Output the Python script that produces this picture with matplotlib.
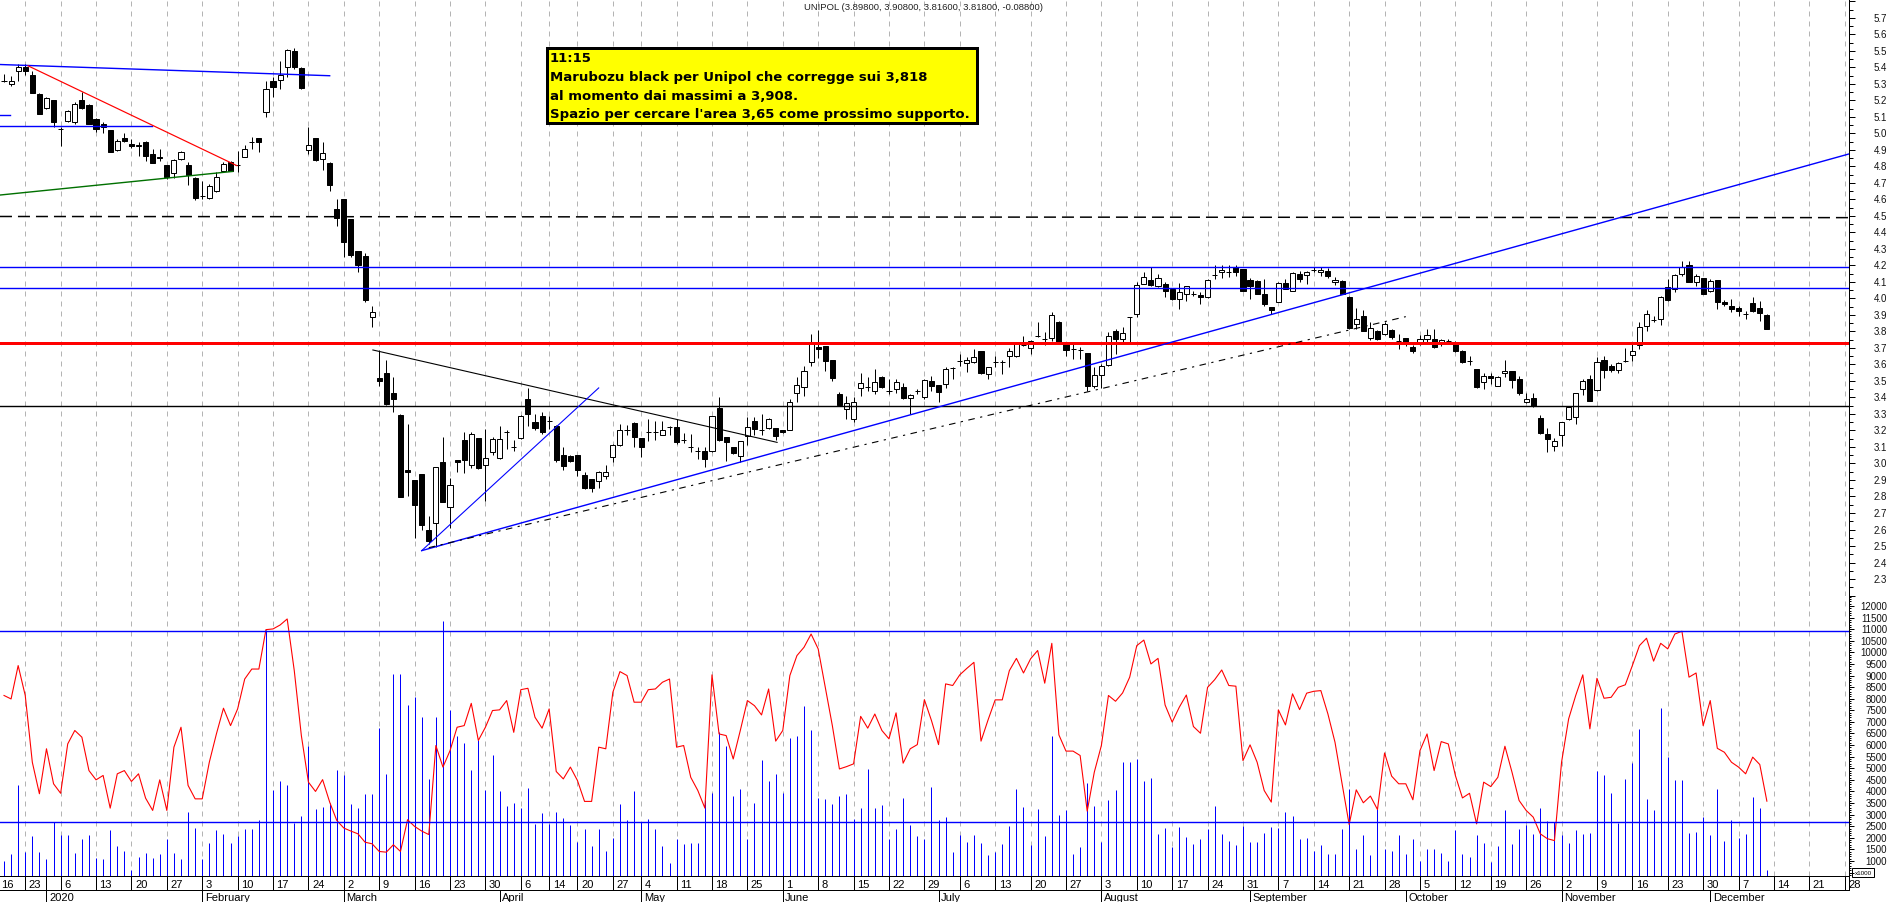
import numpy as np
import pandas as pd
import matplotlib
matplotlib.use("Agg")
import matplotlib.pyplot as plt
from matplotlib import transforms, font_manager
from matplotlib.patches import Rectangle
from matplotlib.lines import Line2D

# ---- data ----
opens = [5.32, 5.30, 5.38, 5.40, 5.355, 5.24, 5.155, 5.20, 5.03, 5.075,
         5.07, 5.20, 5.175, 5.09, 5.06, 5.02, 4.90, 4.97, 4.935, 4.925,
         4.95, 4.875, 4.86, 4.81, 4.76, 4.845, 4.81, 4.73, 4.62, 4.61,
         4.65, 4.775, 4.83, 4.81, 4.86, 4.95, 4.97, 5.13, 5.32, 5.325,
         5.405, 5.50, 5.395, 4.90, 4.97, 4.845, 4.82, 4.54, 4.60, 4.48,
         4.29, 4.26, 3.89, 3.516, 3.547, 3.43, 3.294, 2.96, 2.90, 2.936,
         2.60, 2.64, 3.01, 2.735, 3.02, 3.14, 2.99, 3.155, 2.99, 3.067,
         3.033, 3.19, 3.10, 3.153, 3.39, 3.25, 3.286, 3.256, 3.23, 3.053,
         3.047, 3.05, 2.932, 2.906, 2.896, 2.926, 3.037, 3.11, 3.20, 3.245,
         3.153, 3.189, 3.189, 3.174, 3.22, 3.223, 3.142, 3.10, 3.074, 3.077,
         3.074, 3.335, 3.159, 3.098, 3.044, 3.164, 3.26, 3.205, 3.215, 3.213,
         3.20, 3.205, 3.427, 3.465, 3.613, 3.708, 3.71, 3.627, 3.42, 3.33,
         3.27, 3.46, 3.465, 3.44, 3.526, 3.44, 3.452, 3.462, 3.395, 3.44,
         3.40, 3.498, 3.476, 3.482, 3.579, 3.62, 3.607, 3.613, 3.68, 3.542,
         3.617, 3.613, 3.65, 3.65, 3.72, 3.698, 3.775, 3.755, 3.76, 3.855,
         3.724, 3.694, 3.69, 3.668, 3.472, 3.538, 3.597, 3.80, 3.755, 3.886,
         3.906, 4.088, 4.112, 4.074, 4.088, 4.058, 3.997, 4.027, 4.027, 4.023,
         4.007, 4.144, 4.159, 4.159, 4.19, 4.179, 4.112, 4.108, 4.03, 3.947,
         3.98, 4.092, 4.047, 4.148, 4.142, 4.173, 4.163, 4.165, 4.098, 4.108,
         4.007, 3.846, 3.894, 3.759, 3.805, 3.785, 3.811, 3.744, 3.759, 3.704,
         3.738, 3.755, 3.755, 3.735, 3.744, 3.735, 3.684, 3.62, 3.573, 3.492,
         3.528, 3.472, 3.547, 3.56, 3.512, 3.37, 3.396, 3.275, 3.179, 3.108,
         3.17, 3.27, 3.28, 3.452, 3.512, 3.447, 3.63, 3.589, 3.569, 3.62,
         3.658, 3.72, 3.832, 3.867, 3.873, 4.068, 4.057, 4.148, 4.205, 4.098,
         4.122, 4.047, 4.112, 3.977, 3.953, 3.94, 3.906, 3.973, 3.94, 3.898]
highs = [5.36, 5.35, 5.42, 5.42, 5.38, 5.245, 5.22, 5.205, 5.04, 5.14,
         5.19, 5.25, 5.18, 5.095, 5.07, 5.02, 4.965, 5.0, 4.965, 4.947,
         4.953, 4.905, 4.905, 4.81, 4.845, 4.895, 4.83, 4.735, 4.715, 4.694,
         4.765, 4.825, 4.836, 4.896, 4.932, 4.977, 4.972, 5.32, 5.34, 5.44,
         5.512, 5.516, 5.40, 5.04, 4.972, 4.95, 4.83, 4.60, 4.60, 4.482,
         4.29, 4.274, 3.955, 3.685, 3.627, 3.526, 3.30, 3.24, 2.90, 2.936,
         2.68, 2.98, 3.16, 2.91, 3.02, 3.19, 3.19, 3.157, 3.21, 3.16,
         3.23, 3.20, 3.145, 3.294, 3.457, 3.30, 3.31, 3.29, 3.232, 3.098,
         3.05, 3.052, 2.95, 2.908, 2.956, 2.99, 3.12, 3.24, 3.235, 3.25,
         3.155, 3.27, 3.26, 3.26, 3.23, 3.27, 3.185, 3.18, 3.098, 3.10,
         3.29, 3.40, 3.16, 3.10, 3.136, 3.28, 3.28, 3.30, 3.274, 3.215,
         3.20, 3.39, 3.523, 3.59, 3.785, 3.81, 3.712, 3.63, 3.435, 3.41,
         3.40, 3.547, 3.526, 3.573, 3.53, 3.512, 3.512, 3.49, 3.42, 3.45,
         3.512, 3.528, 3.478, 3.583, 3.583, 3.664, 3.644, 3.694, 3.683, 3.585,
         3.653, 3.627, 3.70, 3.738, 3.775, 3.75, 3.86, 3.795, 3.916, 3.866,
         3.726, 3.724, 3.704, 3.67, 3.583, 3.60, 3.795, 3.815, 3.83, 3.89,
         4.10, 4.163, 4.19, 4.148, 4.10, 4.06, 4.092, 4.076, 4.047, 4.037,
         4.118, 4.20, 4.20, 4.20, 4.20, 4.18, 4.122, 4.11, 4.118, 3.95,
         4.10, 4.118, 4.159, 4.169, 4.169, 4.19, 4.19, 4.183, 4.128, 4.11,
         4.017, 3.94, 3.93, 3.855, 3.81, 3.855, 3.815, 3.785, 3.76, 3.72,
         3.78, 3.815, 3.815, 3.755, 3.755, 3.745, 3.686, 3.653, 3.575, 3.547,
         3.55, 3.532, 3.63, 3.562, 3.528, 3.43, 3.43, 3.294, 3.213, 3.153,
         3.252, 3.35, 3.43, 3.512, 3.536, 3.644, 3.653, 3.60, 3.613, 3.70,
         3.724, 3.855, 3.93, 3.896, 4.017, 4.118, 4.148, 4.23, 4.23, 4.148,
         4.125, 4.118, 4.115, 3.99, 3.997, 3.956, 3.926, 4.007, 3.987, 3.908]
lows = [5.31, 5.285, 5.32, 5.355, 5.245, 5.12, 5.15, 5.04, 4.925, 5.07,
        5.06, 5.15, 5.055, 5.01, 5.0, 4.885, 4.895, 4.95, 4.915, 4.866,
        4.835, 4.82, 4.835, 4.725, 4.73, 4.84, 4.685, 4.597, 4.60, 4.603,
        4.644, 4.765, 4.772, 4.765, 4.856, 4.906, 4.886, 5.10, 5.22, 5.27,
        5.34, 5.39, 5.27, 4.875, 4.835, 4.78, 4.65, 4.44, 4.25, 4.254,
        4.163, 3.98, 3.83, 3.47, 3.355, 3.31, 2.80, 2.805, 2.55, 2.597,
        2.51, 2.495, 2.765, 2.61, 2.95, 2.94, 2.97, 2.965, 2.775, 3.05,
        3.03, 3.09, 3.073, 3.15, 3.23, 3.20, 3.18, 3.21, 3.01, 2.96,
        3.012, 2.926, 2.845, 2.825, 2.85, 2.906, 3.01, 3.108, 3.17, 3.098,
        3.037, 3.135, 3.145, 3.17, 3.17, 3.118, 3.122, 3.07, 3.027, 2.977,
        3.07, 3.138, 3.017, 3.055, 3.01, 3.11, 3.17, 3.173, 3.21, 3.145,
        3.185, 3.20, 3.37, 3.41, 3.593, 3.64, 3.56, 3.50, 3.354, 3.27,
        3.25, 3.41, 3.44, 3.42, 3.46, 3.42, 3.43, 3.39, 3.30, 3.42,
        3.39, 3.44, 3.37, 3.46, 3.51, 3.593, 3.556, 3.61, 3.54, 3.512,
        3.583, 3.542, 3.583, 3.644, 3.715, 3.664, 3.765, 3.72, 3.744, 3.724,
        3.653, 3.633, 3.633, 3.44, 3.46, 3.46, 3.593, 3.664, 3.724, 3.724,
        3.886, 4.085, 4.078, 4.072, 4.007, 3.99, 3.936, 3.987, 4.017, 3.967,
        4.005, 4.118, 4.125, 4.128, 4.137, 4.045, 3.997, 4.025, 3.957, 3.906,
        3.977, 4.055, 4.045, 4.102, 4.088, 4.159, 4.137, 4.122, 4.082, 4.025,
        3.815, 3.815, 3.80, 3.75, 3.75, 3.78, 3.755, 3.694, 3.714, 3.67,
        3.72, 3.724, 3.70, 3.71, 3.735, 3.678, 3.61, 3.597, 3.456, 3.452,
        3.48, 3.468, 3.523, 3.456, 3.415, 3.365, 3.344, 3.18, 3.068, 3.073,
        3.108, 3.265, 3.24, 3.417, 3.378, 3.437, 3.516, 3.553, 3.55, 3.613,
        3.623, 3.694, 3.80, 3.86, 3.84, 3.987, 4.037, 4.138, 4.098, 4.078,
        4.025, 4.04, 3.936, 3.957, 3.916, 3.896, 3.876, 3.916, 3.865, 3.816]
closes = [5.32, 5.32, 5.40, 5.38, 5.245, 5.12, 5.215, 5.07, 5.03, 5.135,
          5.18, 5.155, 5.06, 5.03, 5.04, 4.89, 4.955, 4.955, 4.925, 4.93,
          4.865, 4.82, 4.85, 4.735, 4.84, 4.89, 4.75, 4.61, 4.62, 4.68,
          4.735, 4.815, 4.775, 4.81, 4.905, 4.95, 4.95, 5.27, 5.28, 5.355,
          5.505, 5.40, 5.275, 4.93, 4.84, 4.88, 4.69, 4.49, 4.345, 4.265,
          4.20, 3.99, 3.92, 3.498, 3.36, 3.39, 2.80, 2.947, 2.75, 2.63,
          2.53, 2.977, 2.765, 2.867, 3.007, 3.02, 3.18, 2.97, 3.033, 3.147,
          3.147, 3.19, 3.10, 3.286, 3.30, 3.215, 3.19, 3.256, 3.02, 2.986,
          3.017, 2.96, 2.85, 2.85, 2.95, 2.95, 3.11, 3.205, 3.20, 3.159,
          3.098, 3.189, 3.189, 3.203, 3.22, 3.132, 3.142, 3.10, 3.074, 3.027,
          3.286, 3.142, 3.132, 3.064, 3.134, 3.223, 3.21, 3.205, 3.27, 3.168,
          3.19, 3.37, 3.478, 3.56, 3.724, 3.694, 3.623, 3.516, 3.354, 3.367,
          3.37, 3.485, 3.465, 3.492, 3.465, 3.44, 3.492, 3.395, 3.415, 3.44,
          3.506, 3.472, 3.435, 3.573, 3.579, 3.62, 3.63, 3.644, 3.547, 3.583,
          3.617, 3.613, 3.68, 3.735, 3.72, 3.744, 3.775, 3.755, 3.90, 3.73,
          3.69, 3.694, 3.69, 3.468, 3.538, 3.593, 3.77, 3.755, 3.79, 3.886,
          4.082, 4.13, 4.082, 4.122, 4.044, 3.997, 4.04, 4.074, 4.027, 4.007,
          4.112, 4.144, 4.175, 4.159, 4.163, 4.047, 4.078, 4.027, 3.967, 3.932,
          4.092, 4.058, 4.153, 4.118, 4.163, 4.173, 4.175, 4.138, 4.112, 4.027,
          3.82, 3.873, 3.805, 3.82, 3.755, 3.846, 3.765, 3.744, 3.73, 3.684,
          3.755, 3.78, 3.704, 3.749, 3.744, 3.684, 3.613, 3.62, 3.465, 3.532,
          3.516, 3.522, 3.56, 3.508, 3.425, 3.39, 3.346, 3.186, 3.148, 3.138,
          3.25, 3.344, 3.425, 3.502, 3.38, 3.617, 3.569, 3.569, 3.607, 3.62,
          3.684, 3.83, 3.906, 3.867, 4.007, 3.993, 4.142, 4.19, 4.102, 4.138,
          4.027, 4.108, 3.977, 3.967, 3.936, 3.926, 3.906, 3.926, 3.912, 3.818]
volume = [1020, 1310, 4260, 1380, 2060, 1380, 1090, 2670, 2100, 2100,
          1350, 1930, 2140, 1140, 1090, 2340, 1630, 1440, 620, 1190,
          1350, 1140, 1310, 1930, 1350, 1090, 3130, 2430, 1090, 1780,
          2320, 2170, 1780, 2070, 2390, 2360, 2780, 10980, 4080, 4470,
          4280, 2650, 2960, 5980, 3250, 3320, 3510, 4930, 4730, 3470,
          3290, 3900, 3900, 6740, 4760, 9070, 9070, 7730, 8090, 7230,
          4540, 7230, 11370, 7520, 6410, 6090, 4930, 6200, 4080, 5590,
          4040, 3390, 3510, 3290, 4150, 2600, 3080, 2600, 3130, 2860,
          2570, 1840, 2390, 1630, 2360, 1450, 2010, 3470, 2750, 4010,
          2670, 2820, 2390, 1640, 920, 1960, 1740, 1770, 1770, 3610,
          3940, 6550, 5980, 3800, 4110, 1930, 3510, 5360, 4430, 4760,
          3940, 6310, 6410, 7700, 6660, 3720, 3680, 3470, 3820, 3900,
          2790, 3290, 4970, 3290, 3420, 1930, 2360, 3720, 2560, 2070,
          1930, 4180, 2750, 2890, 1380, 2130, 1810, 2130, 1780, 1270,
          1380, 1740, 2500, 4110, 3320, 1700, 3250, 2060, 6410, 2990,
          3180, 1310, 1600, 4370, 3390, 1810, 3640, 4070, 5260, 5260,
          5400, 4430, 4590, 2170, 2420, 1600, 2460, 2030, 1740, 1960,
          2390, 3390, 2170, 1860, 1670, 2530, 1840, 1840, 2200, 2460,
          2430, 3130, 2960, 1930, 2000, 1450, 1670, 1310, 1310, 2390,
          4110, 1530, 2130, 1240, 3250, 1500, 1450, 2100, 1310, 1960,
          1020, 1530, 1500, 1350, 1020, 2340, 1310, 1190, 2100, 1770,
          950, 1630, 3180, 1740, 2390, 2570, 2170, 3290, 2720, 2700,
          2130, 1780, 2340, 2170, 2210, 4900, 4720, 3940, 2650, 4540,
          5230, 6700, 3680, 3210, 7600, 5480, 4500, 4500, 2210, 2240,
          2890, 2100, 4110, 1880, 2780, 2000, 2170, 3750, 3280, 590]
vol_avg = [8140, 7990, 9430, 8140, 5260, 3900, 5840, 4330, 3920, 6050,
           6630, 6340, 4900, 4500, 4690, 3280, 4760, 4900, 4430, 4760,
           3710, 3180, 4500, 3180, 5910, 6770, 4260, 3680, 3680, 5260,
           6480, 7590, 6840, 7560, 8850, 9280, 9280, 10980, 11010, 11180,
           11440, 9210, 6410, 4400, 4000, 4510, 3540, 2750, 2420, 2290,
           2170, 1810, 1740, 1410, 1380, 1700, 1410, 2780, 2490, 2290,
           2140, 5980, 5050, 5760, 6770, 6840, 7800, 6200, 6770, 7490,
           7520, 7920, 6550, 8390, 8450, 7200, 6730, 7560, 4860, 4540,
           5050, 4470, 3570, 3570, 5910, 5840, 8280, 9170, 9000, 7850,
           7850, 8390, 8420, 8710, 8850, 5910, 5980, 4610, 4040, 3280,
           9030, 6480, 6410, 5400, 6630, 7920, 7700, 7300, 8420, 6170,
           6630, 9000, 9860, 10220, 10790, 10150, 8490, 6840, 4970, 5070,
           5190, 7240, 6730, 7340, 6630, 6270, 7390, 5220, 5840, 6020,
           7960, 7060, 6020, 8640, 8570, 9030, 9310, 9570, 6170, 7090,
           7950, 7950, 9210, 9740, 9110, 9720, 10080, 8670, 10390, 6440,
           5740, 5740, 5550, 3150, 4830, 5980, 8140, 7890, 8250, 8930,
           10290, 10530, 9500, 9740, 7730, 6990, 7630, 8160, 6800, 6510,
           8490, 8820, 9240, 8570, 8540, 5330, 6010, 5260, 4040, 3540,
           7520, 6870, 8210, 7530, 8240, 8320, 8350, 7340, 6120, 4330,
           2570, 4070, 3510, 3800, 3220, 5660, 4660, 4330, 4330, 3640,
           5760, 6480, 4900, 6150, 6050, 4690, 3720, 3920, 2600, 4400,
           4210, 4610, 5950, 4830, 3610, 3180, 2890, 2170, 1960, 1880,
           5260, 7130, 8140, 9030, 6700, 8880, 8020, 8060, 8490, 8600,
           9430, 10290, 10610, 9620, 10390, 10150, 10790, 10910, 8930, 9110,
           6840, 7920, 5860, 5690, 5260, 5050, 4760, 5480, 5160, 3580]

title = "UNIPOL (3.89800, 3.90800, 3.81600, 3.81800, -0.08800)"
note_lines = ["11:15",
              "Marubozu black per Unipol che corregge sui 3,818",
              "al momento dai massimi a 3,908.",
              "Spazio per cercare l'area 3,65 come prossimo supporto."]
price_levels = [4.19, 4.064]          # blue resistances
support_red = 3.73
support_black = 3.35
volume_levels = [10920, 2690]
month_names = ["2020", "February", "March", "April", "May", "June", "July",
               "August", "September", "October", "November", "December"]

# ---- trading calendar ----
closed = pd.to_datetime(["2019-12-24", "2019-12-25", "2019-12-26", "2019-12-31",
                         "2020-01-01", "2020-04-10", "2020-04-13", "2020-05-01"])
sess = pd.bdate_range("2019-12-16", "2020-12-31")
sess = sess[~sess.isin(closed)]
cal = pd.DataFrame({"d": sess, "p": np.arange(len(sess)) - 2})
weeks = cal.groupby(cal.d.dt.to_period("W")).first()
weeks = weeks[weeks.d != pd.Timestamp("2019-12-30")]
months = cal.groupby(cal.d.dt.to_period("M")).first()
months = months[months.d.dt.year == 2020]

opens, highs, lows, closes = map(np.array, (opens, highs, lows, closes))
x = np.arange(len(opens))

W, H = 1890, 903
PX = 0.72  # one pixel in points
fig = plt.figure(figsize=(W / 100, H / 100), dpi=100)
plt.rcParams["font.family"] = ["Liberation Sans", "DejaVu Sans"]


def fx(px):
    return px / W


def fy(py):
    return 1 - py / H


ax1 = fig.add_axes([0, fy(597), fx(1849), fy(0) - fy(597)])
ax2 = fig.add_axes([0, fy(877), fx(1849), fy(597) - fy(877)])
XL = (-0.565, 260.6)
P_LIM = (2.197, 5.815)
V_LIM = (352, 12431)

for ax in (ax1, ax2):
    ax.set_xlim(*XL)
    ax.set_xticks([])
    for s in ("left", "top"):
        ax.spines[s].set_visible(False)
    ax.spines["right"].set_linewidth(PX)
    ax.spines["bottom"].set_linewidth(PX)
    for p in weeks.p:
        ax.axvline(p, color="#b4b4b4", lw=PX, ls=(0, (5, 5)), zorder=0)
ax1.set_ylim(*P_LIM)
ax2.set_ylim(*V_LIM)

# ---- candles ----
up = closes >= opens
ax1.vlines(x, lows, highs, color="black", lw=PX, zorder=2)
ax1.bar(x, np.abs(closes - opens), bottom=np.minimum(opens, closes), width=0.72,
        color=np.where(up, "white", "black"), edgecolor="black", linewidth=PX, zorder=3)

# ---- drawn lines ----
blue = "#0000ff"
ax1.plot([-0.57, 46], [5.418, 5.35], color=blue, lw=1.4 * PX, zorder=4)
ax1.plot([-0.57, 0.9], [5.112, 5.112], color=blue, lw=1.4 * PX, zorder=4)
ax1.plot([-0.57, 20.9], [5.044, 5.044], color=blue, lw=1.4 * PX, zorder=4)
ax1.plot([3.4, 32.9], [5.41, 4.805], color="#ff0000", lw=1.2 * PX, zorder=4)
ax1.plot([-0.57, 32.3], [4.627, 4.77], color="#007000", lw=1.4 * PX, zorder=4)
ax1.plot([-0.57, 260.6], [4.497, 4.49], color="black", lw=1.5 * PX,
         ls=(0, (8, 4)), zorder=4)
for lvl in price_levels:
    ax1.axhline(lvl, color=blue, lw=1.4 * PX, zorder=4)
ax1.axhline(support_red, color="#ff0000", lw=3 * PX, zorder=4)
ax1.axhline(support_black, color="black", lw=1.4 * PX, zorder=4)
ax1.plot([52.1, 109.2], [3.688, 3.128], color="black", lw=1.1 * PX, zorder=4)
ax1.plot([59.0, 84.0], [2.472, 3.458], color=blue, lw=1.1 * PX, zorder=4)
ax1.plot([59.0, 260.6], [2.472, 4.876], color=blue, lw=1.4 * PX, zorder=4)
ax1.plot([60, 198], [2.49, 3.89], color="black", lw=1.1 * PX,
         ls=(0, (6, 5, 2, 5)), zorder=4)

# ---- volume panel ----
ax2.vlines(x, V_LIM[0], volume, color=blue, lw=PX, zorder=2)
ax2.plot(x, vol_avg, color="#ff0000", lw=1.1 * PX, zorder=3)
for lvl in volume_levels:
    ax2.axhline(lvl, color=blue, lw=1.4 * PX, zorder=4)

# ---- right axes: ticks and labels ----
ax1.yaxis.tick_right()
ax1.set_yticks(np.arange(2.2, 5.85, 0.1))
ax1.set_yticks(np.arange(2.25, 5.85, 0.1), minor=True)
ax1.tick_params(axis="y", which="major", length=6 * PX, width=PX, labelright=False)
ax1.tick_params(axis="y", which="minor", length=3.5 * PX, width=PX)
ax2.yaxis.tick_right()
ax2.set_yticks(np.arange(500, 12500, 500))
ax2.set_yticks(np.arange(400, 12500, 100), minor=True)
ax2.tick_params(axis="y", which="major", length=5 * PX, width=PX, labelright=False)
ax2.tick_params(axis="y", which="minor", length=2.5 * PX, width=PX)

t1 = transforms.blended_transform_factory(fig.transFigure, ax1.transData)
for v in np.arange(2.3, 5.75, 0.1):
    ax1.text(fx(1887), v, f"{v:.1f}", transform=t1, ha="right", va="center",
             fontsize=7, color="#111111", clip_on=False)
t2 = transforms.blended_transform_factory(fig.transFigure, ax2.transData)
for v in range(1000, 12001, 500):
    ax2.text(fx(1887), v, str(v), transform=t2, ha="right", va="center",
             fontsize=7, color="#111111", clip_on=False)
fig.add_artist(Rectangle((fx(1852), fy(878)), fx(22), fy(869) - fy(878),
                         transform=fig.transFigure, fill=False, lw=PX, ec="black"))
fig.text(fx(1863), fy(873.5), "x1000", ha="center", va="center", fontsize=4.5)

# ---- date axis ----
tx = transforms.blended_transform_factory(ax2.transData, fig.transFigure)
fig.add_artist(Line2D([0, fx(1849)], [fy(891), fy(891)], transform=fig.transFigure,
                      color="black", lw=PX))
fig.add_artist(Line2D([fx(1849), fx(1849)], [fy(877), fy(891)], transform=fig.transFigure,
                      color="black", lw=PX))
for d, p in zip(weeks.d, weeks.p):
    fig.add_artist(Line2D([p, p], [fy(877), fy(891)], transform=tx, color="black", lw=PX))
    fig.text(max(p + 0.5, XL[0] + 0.1), fy(885), str(d.day), transform=tx,
             ha="left", va="center", fontsize=8)
for name, p, d in zip(month_names, months.p, months.d):
    top = 877 if d.month == 1 else 891
    fig.add_artist(Line2D([p, p], [fy(top), fy(903)], transform=tx, color="black", lw=PX))
    fig.text(p + 0.35, fy(893), name, transform=tx, ha="left", va="top", fontsize=8)

# ---- title and note ----
fig.text(fx(924), fy(8), title, ha="center", va="center", fontsize=6.8, color="#222222")
names = {f.name for f in font_manager.fontManager.ttflist}
note_font = "Liberation Sans Narrow" if "Liberation Sans Narrow" in names else "DejaVu Sans"
note_size = 12 if note_font == "Liberation Sans Narrow" else 9.5
fig.add_artist(Rectangle((fx(547), fy(124)), fx(430), fy(49) - fy(124),
                         transform=fig.transFigure, fc="#ffff00", ec="black", lw=3 * PX))
for k, line in enumerate(note_lines):
    fig.text(fx(550), fy(59 + 18.6 * k), line, ha="left", va="center",
             fontsize=note_size, fontweight="bold", family=note_font)

fig.savefig("out.png", dpi=100)
